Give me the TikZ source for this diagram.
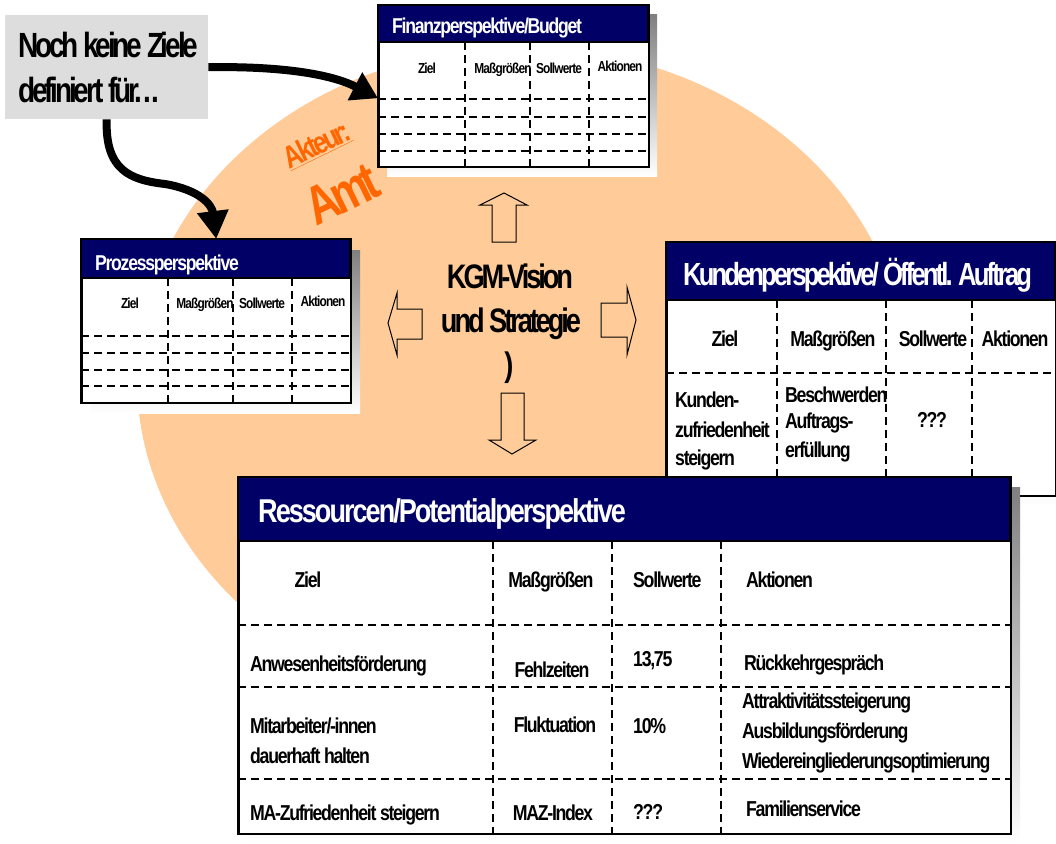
\documentclass[tikz,border=0pt]{standalone}
\usepackage{fontspec}
\setmainfont{Liberation Sans}
\newfontfamily\af[FakeStretch=0.82,LetterSpace=-6]{Liberation Sans}
\newfontfamily\ag[FakeStretch=0.80,LetterSpace=-9]{Liberation Sans}
\usetikzlibrary{arrows.meta,calc}
\definecolor{peach}{HTML}{FFCC99}
\definecolor{navy}{HTML}{000066}
\definecolor{shade}{HTML}{808080}
\definecolor{lgray}{HTML}{DDDDDD}
\definecolor{amt}{HTML}{FF6600}
\begin{document}
\begin{tikzpicture}[x=1pt,y=-1pt,
  box/.style={draw=black,line width=1.5pt,fill=white,anchor=north west,inner sep=0pt},
  head/.style={fill=navy,draw=black,line width=1.5pt},
  dline/.style={dash pattern=on 8pt off 5pt,line width=1.6pt},
  ht/.style={text=white,anchor=base west,inner sep=0pt},
  sm/.style={font=\af\bfseries\fontsize{14.5}{18}\selectfont,inner sep=0pt,anchor=base},
  md/.style={font=\af\bfseries\fontsize{21.6}{26}\selectfont,inner sep=0pt,anchor=base},
  mdl/.style={md,anchor=base west},
  blk/.style={draw=black,line width=1pt},
  thick arrow/.style={line width=8pt}
]
\useasboundingbox (0,0) rectangle (1056,843);
\fill[white] (0,0) rectangle (1056,843);
% background ellipse
\fill[peach] (522,379) ellipse [x radius=385, y radius=332];

% ---------- Finanzperspektive ----------
\fill[shade] (387,15) rectangle (657,176);
\node[box,minimum width=270pt,minimum height=161pt] (fin) at (378,5) {};
\filldraw[head] (378,5) rectangle (648,42);
\node[ht,font=\af\bfseries\fontsize{21.5}{24}\selectfont] (finh) at (392,34) {Finanzperspektive/Budget};
\foreach \x in {465,530,589} \draw[dline] (\x,42) -- (\x,166);
\foreach \y in {99,117,134,151} \draw[dline] (378,\y) -- (648,\y);
\node[sm] (f1) at (427,73) {Ziel};
\node[sm] (f2) at (503,73) {Maßgrößen};
\node[sm] (f3) at (559,73) {Sollwerte};
\node[sm] (f4) at (620,71) {Aktionen};
\draw[line width=1.5pt] (fin.north west) rectangle (fin.south east);

% ---------- Prozessperspektive ----------
\fill[shade] (91,250) rectangle (360,413);
\node[box,minimum width=269pt,minimum height=163pt] (proz) at (81,239) {};
\filldraw[head] (81,239) rectangle (350,278);
\node[ht,font=\af\bfseries\fontsize{21.5}{24}\selectfont] (prozh) at (95,270) {Prozessperspektive};
\foreach \x in {168,233,292} \draw[dline] (\x,278) -- (\x,402);
\foreach \y in {336,353,370,386} \draw[dline] (81,\y) -- (350,\y);
\node[sm] (p1) at (130,308) {Ziel};
\node[sm] (p2) at (205,308) {Maßgrößen};
\node[sm] (p3) at (262,308) {Sollwerte};
\node[sm] (p4) at (323,306) {Aktionen};
\draw[line width=1.5pt] (proz.north west) rectangle (proz.south east);

% ---------- Kundenperspektive ----------
\fill[shade] (676,252) rectangle (1066,505);
\node[box,minimum width=389pt,minimum height=253pt] (kund) at (666,242) {};
\filldraw[head] (666,242) rectangle (1055,300);
\node[ht,font=\ag\bfseries\fontsize{32}{36}\selectfont] (kundh) at (683,285) {Kundenperspektive/ Öffentl. Auftrag};
\foreach \x in {777,886,972} \draw[dline] (\x,300) -- (\x,495);
\draw[dline] (666,373) -- (1055,373);
\node[md] (k1) at (725,346) {Ziel};
\node[md] (k2) at (833,346) {Maßgrößen};
\node[md] (k3) at (933,346) {Sollwerte};
\node[md] (k4) at (1015,346) {Aktionen};
\node[mdl] (k5) at (675,407) {Kunden-};
\node[mdl] (k6) at (675,437) {zufriedenheit};
\node[mdl] (k7) at (675,465) {steigern};
\node[mdl] (k8) at (785,402) {Beschwerden};
\node[mdl] (k9) at (785,428) {Auftrags-};
\node[mdl] (k10) at (785,457) {erfüllung};
\node[md] (k11) at (932,427) {???};
\draw[line width=1.5pt] (kund.north west) rectangle (kund.south east);

% ---------- Gray note and arrows ----------
\node[fill=lgray,anchor=north west,inner sep=0pt,minimum width=203pt,minimum height=104pt] (noch) at (5,15) {};
\node[font=\ag\bfseries\fontsize{35}{40}\selectfont,anchor=base west,inner sep=0pt] (n1) at (18,58) {Noch keine Ziele};
\node[font=\ag\bfseries\fontsize{35}{40}\selectfont,anchor=base west,inner sep=0pt] (n2) at (18,102) {definiert für.\kern1pt.\kern1pt.};
\draw[thick arrow,-{Triangle[length=26pt,width=30pt]}] (noch.east) .. controls (290,66) and (335,76) .. ([yshift=-12pt]fin.west);
\draw[thick arrow,-{Triangle[length=28pt,width=30pt]}] (noch.south) .. controls (105,170) and (130,180) .. (165,184) .. controls (200,190) and (212,205) .. (proz.north);

% ---------- Akteur: Amt ----------
\node[text=amt,rotate=26,font=\ag\bfseries\fontsize{31}{34}\selectfont,inner sep=0pt] (akt) at (317,145) {\underline{Akteur:}};
\node[text=amt,rotate=26,font=\ag\bfseries\fontsize{54}{58}\selectfont,inner sep=0pt] (amtn) at (342,194) {Amt};

% ---------- centre ----------
\node[font=\ag\bfseries\fontsize{34}{40}\selectfont,anchor=base,inner sep=0pt] (c1) at (510,288) {KGM-Vision};
\node[font=\ag\bfseries\fontsize{34}{40}\selectfont,anchor=base,inner sep=0pt] (c2) at (511,332) {und Strategie};
\node[font=\ag\bfseries\fontsize{34}{40}\selectfont,anchor=base,inner sep=0pt] (c3) at (509,376) {)};
\draw[blk] (492,242) -- (492,205) -- (480,205) -- (504,193) -- (527,205) -- (516,205) -- (516,242) -- cycle;
\draw[blk] (388,323) -- (397,293) -- (397,309) -- (422,309) -- (422,339) -- (397,339) -- (397,355) -- cycle;
\draw[blk] (601,303) -- (627,303) -- (627,287) -- (636,320) -- (627,355) -- (627,337) -- (601,337) -- cycle;
\draw[blk] (501,393) -- (524,393) -- (524,440) -- (536,440) -- (512,454) -- (489,440) -- (501,440) -- cycle;

% ---------- Ressourcen ----------
\fill[shade] (248,487) rectangle (1020,843);
\node[box,minimum width=772pt,minimum height=356pt] (ress) at (238,477) {};
\filldraw[head] (238,477) rectangle (1010,541);
\node[ht,font=\af\bfseries\fontsize{33}{38}\selectfont] (ressh) at (258,522) {Ressourcen/Potentialperspektive};
\foreach \x in {493,612,721} \draw[dline] (\x,541) -- (\x,833);
\foreach \y in {625,687,779} \draw[dline] (238,\y) -- (1010,\y);
\node[md] (r1) at (308,587) {Ziel};
\node[md] (r2) at (551,587) {Maßgrößen};
\node[mdl] (r3) at (633,587) {Sollwerte};
\node[mdl] (r4) at (746,587) {Aktionen};
\node[mdl] (r5) at (250,671) {Anwesenheitsförderung};
\node[md] (r6) at (552,677) {Fehlzeiten};
\node[mdl] (r7) at (633,666) {13,75};
\node[mdl] (r8) at (744,670) {Rückkehrgespräch};
\node[mdl] (r9) at (250,733) {Mitarbeiter/-innen};
\node[mdl] (r10) at (250,763) {dauerhaft halten};
\node[md] (r11) at (555,732) {Fluktuation};
\node[mdl] (r12) at (633,733) {10\%};
\node[mdl] (r13) at (742,708) {Attraktivitätssteigerung};
\node[mdl] (r14) at (742,738) {Ausbildungsförderung};
\node[mdl] (r15) at (742,768) {Wiedereingliederungsoptimierung};
\node[mdl] (r16) at (250,820) {MA-Zufriedenheit steigern};
\node[md] (r17) at (553,820) {MAZ-Index};
\node[mdl] (r18) at (633,819) {???};
\node[mdl] (r19) at (746,816) {Familienservice};
\draw[line width=1.5pt] (ress.north west) rectangle (ress.south east);
\end{tikzpicture}
\end{document}
